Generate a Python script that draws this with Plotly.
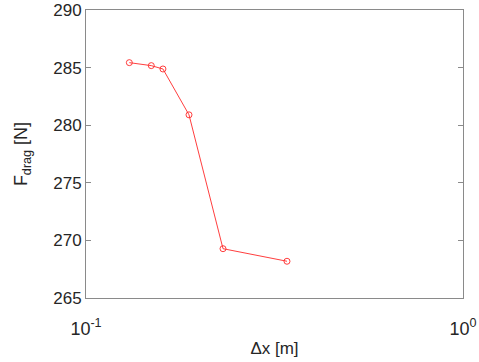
import plotly.graph_objects as go

# Grid spacing vs. drag force
dx_m = [0.1303, 0.149, 0.160, 0.1876, 0.2309, 0.3413]
f_drag_n = [285.43, 285.17, 284.88, 280.9, 269.28, 268.19]

x_tick_vals = [0.1, 1]
x_tick_text = ["10<sup>-1</sup>", "10<sup>0</sup>"]
y_tick_vals = [265, 270, 275, 280, 285, 290]

axis_grey = "#8a8a8a"
text_dark = "#262626"
font_family = "Liberation Sans, Arial, sans-serif"

fig = go.Figure()
fig.add_trace(go.Scatter(
    x=dx_m, y=f_drag_n,
    mode="lines+markers",
    line=dict(color="rgb(255,40,40)", width=0.9),
    marker=dict(symbol="circle-open", size=6, color="rgb(255,40,40)", line=dict(width=0.9)),
    showlegend=False,
))

fig.update_layout(
    width=479, height=362,
    margin=dict(l=86, r=16, t=10, b=64, autoexpand=False),
    paper_bgcolor="white", plot_bgcolor="white",
    font=dict(family=font_family, size=17, color=text_dark),
    xaxis=dict(
        type="log", range=[-1, 0],
        tickvals=x_tick_vals, ticktext=x_tick_text,
        ticks="inside", ticklen=5, tickcolor=axis_grey,
        showline=True, linecolor=axis_grey, linewidth=1, mirror="allticks",
        showgrid=False, zeroline=False,
        ticklabelstandoff=14,
        title=dict(text="Δx [m]", font=dict(size=17), standoff=4),
        tickfont=dict(size=18),
        automargin=False,
    ),
    yaxis=dict(
        range=[265, 290],
        tickvals=y_tick_vals,
        ticks="inside", ticklen=5, tickcolor=axis_grey,
        showline=True, linecolor=axis_grey, linewidth=1, mirror="allticks",
        showgrid=False, zeroline=False,
        title=dict(text="F<sub>drag</sub> [N]",
                   font=dict(size=18), standoff=20),
        tickfont=dict(size=17),
        automargin=False,
    ),
)

fig.write_html("out.html")
